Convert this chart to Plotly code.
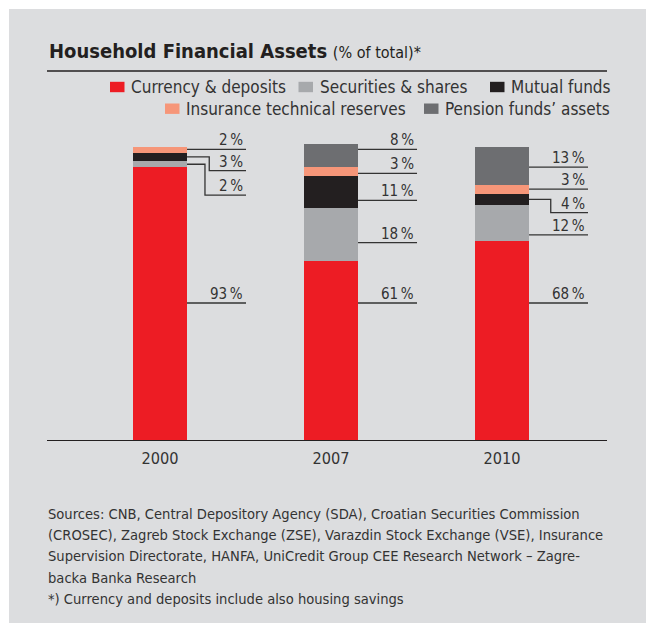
import plotly.graph_objects as go

# ---------------- data ----------------
years = ["2000", "2007", "2010"]
series_names = ["Currency & deposits", "Securities & shares", "Mutual funds",
                "Insurance technical reserves", "Pension funds’ assets"]
currency = [93, 61, 68]
securities = [2, 18, 12]
mutual = [3, 11, 4]
insurance = [2, 3, 3]
pension = [0, 8, 13]

# ---------------- style / layout constants ----------------
colors = ["#ED1C24", "#A7A9AC", "#231F20", "#F69679", "#6D6E71"]
W, H = 646, 623
FONT = "DejaVu Sans Condensed, Liberation Sans Narrow, sans-serif"
TXT = "#333333"
LINE = "#333333"
BAR_W = 0.316
LINE_LEN = 0.345   # length of label leader lines (x units, from bar edge)

# y position (data units) of the leader line under each value label
label_y = [
    [46.7, 46.7, 46.7],     # currency
    [83.5, 67.3, 69.9],     # securities
    [91.8, 81.7, 77.5],     # mutual
    [99.1, 90.9, 85.5],     # insurance
    [None, 99.1, 93.0],     # pension
]
# elbow offset (x units from bar edge) for bent leader lines, None = straight
elbow_dx = [
    [None, None, None],
    [0.105, None, None],
    [0.130, None, 0.127],
    [None, None, None],
    [None, None, None],
]


def px(x):
    return x / W


def py(y):
    return 1 - y / H


values = [currency, securities, mutual, insurance, pension]
xpos = list(range(len(years)))

fig = go.Figure()
for name, vals, col in zip(series_names, values, colors):
    fig.add_trace(go.Bar(x=xpos, y=vals, name=name, marker_color=col,
                         marker_line_width=0, width=BAR_W, showlegend=False,
                         hoverinfo="skip"))

shapes = []
annotations = []

# gray panel
shapes.append(dict(type="rect", xref="paper", yref="paper", x0=px(9), x1=1.0,
                   y0=0.0, y1=py(9), fillcolor="#DCDDDF", line_width=0, layer="below"))
# rule under the title
shapes.append(dict(type="line", xref="paper", yref="paper", x0=px(47), x1=px(607),
                   y0=py(71), y1=py(71), line=dict(color="#231F20", width=1.4)))

# value labels with leader lines
for si, vals in enumerate(values):
    for yi, v in enumerate(vals):
        ly = label_y[si][yi]
        if ly is None or v == 0:
            continue
        base = sum(values[k][yi] for k in range(si))
        mid = base + v / 2
        edge = xpos[yi] + BAR_W / 2
        end = edge + LINE_LEN
        ex = elbow_dx[si][yi]
        if ex is None:
            path = f"M {edge},{ly} L {end},{ly}"
        else:
            path = f"M {edge},{mid} L {edge + ex},{mid} L {edge + ex},{ly} L {end},{ly}"
        shapes.append(dict(type="path", xref="x", yref="y", path=path,
                           line=dict(color=LINE, width=1.3)))
        annotations.append(dict(x=end, y=ly, xref="x", yref="y", text=f"{v}\u2009%",
                                showarrow=False, xanchor="right", yanchor="bottom",
                                xshift=-1, yshift=-2,
                                font=dict(family=FONT, size=15, color=TXT)))

# title
annotations.append(dict(x=px(47), y=py(50.5), xref="paper", yref="paper",
                        xanchor="left", yanchor="middle", showarrow=False,
                        text="<b>Household Financial Assets</b> "
                             "<span style='font-size:16px'>(% of total)*</span>",
                        font=dict(family=FONT, size=20, color="#231F20")))

# legend (manual, two right-aligned rows)
legend_items = [
    (0, 110, 87), (1, 298.5, 87), (2, 490, 87),
    (3, 165, 108.7), (4, 424, 108.7),
]
for si, x0, yc in legend_items:
    shapes.append(dict(type="rect", xref="paper", yref="paper",
                       x0=px(x0), x1=px(x0 + 14.5), y0=py(yc + 5.2), y1=py(yc - 5.2),
                       fillcolor=colors[si], line_width=0))
    annotations.append(dict(x=px(x0 + 19), y=py(yc), xref="paper", yref="paper",
                            xanchor="left", yanchor="middle", showarrow=False,
                            text=series_names[si],
                            font=dict(family=FONT, size=17, color=TXT)))

# sources / footnote
source_lines = [
    "Sources: CNB, Central Depository Agency (SDA), Croatian Securities Commission",
    "(CROSEC), Zagreb Stock Exchange (ZSE), Varazdin Stock Exchange (VSE), Insurance",
    "Supervision Directorate, HANFA, UniCredit Group CEE Research Network – Zagre-",
    "backa Banka Research",
    "*) Currency and deposits include also housing savings",
]
for i, line in enumerate(source_lines):
    annotations.append(dict(x=px(46), y=py(513.3 + 21.25 * i), xref="paper", yref="paper",
                            xanchor="left", yanchor="middle", showarrow=False,
                            text=line, font=dict(family=FONT, size=14.6, color=TXT)))

fig.update_layout(
    width=W, height=H, margin=dict(l=0, r=0, t=0, b=0),
    paper_bgcolor="white", plot_bgcolor="rgba(0,0,0,0)",
    barmode="stack", bargap=0,
    shapes=shapes, annotations=annotations, showlegend=False,
    xaxis=dict(domain=[px(47), px(607)], range=[-0.6608, 2.614],
               tickvals=xpos, ticktext=years, showgrid=False, zeroline=False,
               showline=True, linecolor="#231F20", linewidth=1.4,
               ticks="outside", ticklen=3, tickcolor="rgba(0,0,0,0)",
               tickfont=dict(family=FONT, size=16.2, color=TXT), fixedrange=True),
    yaxis=dict(domain=[py(440), py(132)], range=[0, 105], visible=False,
               fixedrange=True),
)

fig.write_html("out.html", config={"displayModeBar": False},
               post_script="document.body.style.margin='0';"
                           "document.body.style.overflow='hidden';")
